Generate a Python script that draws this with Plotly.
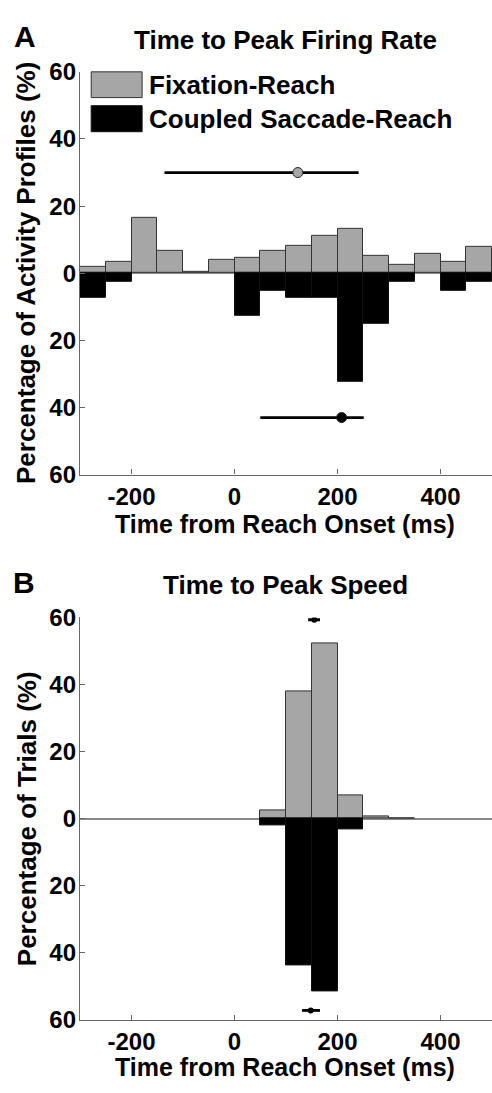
import plotly.graph_objects as go

# ---------------- data ----------------
bin_centers_ms = [-275, -225, -175, -125, -75, -25, 25, 75, 125, 175, 225, 275, 325, 375, 425, 475]
bin_width_ms = 50

# Panel A: time to peak firing rate (% of activity profiles)
fr_fixation_reach = [1.9, 3.3, 16.4, 6.8, 0.5, 3.9, 4.5, 6.8, 8.3, 11.0, 13.1, 5.1, 2.4, 5.8, 3.3, 7.8]
fr_coupled_saccade_reach = [7.4, 2.5, 0, 0, 0, 0, 12.6, 5.1, 7.4, 7.4, 32.5, 15.1, 2.5, 0, 5.1, 2.5]

# Panel B: time to peak speed (% of trials)
sp_fixation_reach = [0, 0, 0, 0, 0, 0, 0, 2.4, 37.9, 52.3, 7.0, 0.7, 0.2, 0, 0, 0]
sp_coupled_saccade_reach = [0, 0, 0, 0, 0, 0, 0, 1.9, 43.8, 51.5, 3.1, 0, 0, 0, 0, 0]

# summary markers: (mean, low, high, level)
fr_fix_summary = dict(mean=123, lo=-136, hi=241, level=30)
fr_cpl_summary = dict(mean=208, lo=50, hi=251, level=43)
sp_fix_summary = dict(mean=155, lo=143, hi=166, level=59.3)
sp_cpl_summary = dict(mean=148, lo=131, hi=166, level=57.2)

x_tick_vals = [-200, 0, 200, 400]
x_tick_text = ["-200", "0", "200", "400"]
y_tick_vals = [-60, -40, -20, 0, 20, 40, 60]
y_tick_text = ["60", "40", "20", "0", "20", "40", "60"]

legend_names = ["Fixation-Reach", "Coupled Saccade-Reach"]

# ---------------- styling ----------------
W, H = 492, 1093
ML, MR = 79.5, 0
PW = W - ML - MR
FONT = "Liberation Sans, Arial, Helvetica, sans-serif"
GRAY = "#a6a6a6"
EDGE = "#333333"
AXC = "#666666"


def px_x(px):
    return (px - ML) / PW


def px_y(py):
    return 1 - py / H


fig = go.Figure()


def nz(vals, sign=1):
    return [sign * v if v else None for v in vals]


def add_hist(xa, ya, pos, neg):
    fig.add_trace(go.Bar(x=bin_centers_ms, y=nz(pos), width=bin_width_ms, base=0,
                         marker=dict(color=GRAY, line=dict(color=EDGE, width=1)),
                         xaxis=xa, yaxis=ya, showlegend=False))
    fig.add_trace(go.Bar(x=bin_centers_ms, y=nz(neg, -1), width=bin_width_ms, base=0,
                         marker=dict(color="black", line=dict(color="#111111", width=1)),
                         xaxis=xa, yaxis=ya, showlegend=False))


def add_summary(xa, ya, s, sign, color, msize):
    fig.add_trace(go.Scatter(
        x=[s["mean"]], y=[sign * s["level"]], mode="markers",
        marker=dict(size=msize, color=color, line=dict(color="#222222", width=1 if msize > 2 else 0)),
        error_x=dict(type="data", symmetric=False, array=[s["hi"] - s["mean"]],
                     arrayminus=[s["mean"] - s["lo"]], thickness=2.8, width=0, color="black"),
        xaxis=xa, yaxis=ya, showlegend=False))


add_hist("x", "y", fr_fixation_reach, fr_coupled_saccade_reach)
add_hist("x2", "y2", sp_fixation_reach, sp_coupled_saccade_reach)
add_summary("x", "y", fr_fix_summary, 1, GRAY, 10)
add_summary("x", "y", fr_cpl_summary, -1, "black", 10)
add_summary("x2", "y2", sp_fix_summary, 1, "black", 0)
add_summary("x2", "y2", sp_cpl_summary, -1, "black", 0)

tickfont = dict(family=FONT, size=24, color="black", weight="bold")

xcommon = dict(range=[-300, 500], tickvals=x_tick_vals, ticktext=x_tick_text,
               ticks="inside", ticklen=5, tickcolor=AXC, tickwidth=1,
               showline=True, linecolor=AXC, linewidth=1.3, showgrid=False,
               zeroline=False, tickfont=tickfont, fixedrange=True, ticklabelstandoff=0)
ycommon = dict(range=[-60, 60], tickvals=y_tick_vals, ticktext=y_tick_text,
               ticks="inside", ticklen=5, tickcolor=AXC, tickwidth=1,
               showline=True, linecolor=AXC, linewidth=1.3, showgrid=False,
               zeroline=True, zerolinecolor="#888888", zerolinewidth=1.5,
               tickfont=tickfont, fixedrange=True, ticklabelstandoff=-2)

domA = [px_y(472.3), px_y(59.3)]
domB = [px_y(1031.3), px_y(618.7)]

fig.update_layout(
    width=W, height=H,
    margin=dict(l=ML, r=MR, t=0, b=0, pad=0),
    paper_bgcolor="white", plot_bgcolor="white",
    barmode="overlay", bargap=0,
    showlegend=False,
    xaxis=dict(domain=[0, 1], anchor="y", **xcommon),
    yaxis=dict(domain=domA, anchor="x", **ycommon),
    xaxis2=dict(domain=[0, 1], anchor="y2", **xcommon),
    yaxis2=dict(domain=domB, anchor="x2", **ycommon),
)

# legend (panel A)
shapes = []
shapes.append(dict(type="rect", xref="paper", yref="paper",
                   x0=px_x(90.7), x1=px_x(141.7), y0=px_y(85.7), y1=px_y(59.3),
                   fillcolor=GRAY, line=dict(color=EDGE, width=1)))
shapes.append(dict(type="rect", xref="paper", yref="paper",
                   x0=px_x(90.7), x1=px_x(141.7), y0=px_y(120.7), y1=px_y(94),
                   fillcolor="black", line=dict(color="#111111", width=1)))
fig.update_layout(shapes=shapes)


def ann(text, x, y, size=26, angle=0, xanchor="center"):
    fig.add_annotation(text=text, xref="paper", yref="paper", x=px_x(x), y=px_y(y),
                       xanchor=xanchor, yanchor="middle", showarrow=False, textangle=angle,
                       font=dict(family=FONT, size=size, color="black", weight="bold"))


ann(legend_names[0], 146.7, 72.5, xanchor="left")
ann(legend_names[1], 146.7, 107.5, xanchor="left")
ann("A", 24, 23, size=30)
ann("Time to Peak Firing Rate", 285, 27)
ann("Percentage of Activity Profiles (%)", 26, 266, angle=-90)
ann("Time from Reach Onset (ms)", 285, 522.5, size=25)
ann("B", 23, 583, size=30)
ann("Time to Peak Speed", 285, 585)
ann("Percentage of Trials (%)", 26, 825, angle=-90)
ann("Time from Reach Onset (ms)", 285, 1080, size=25)

fig.write_html("out.html")
